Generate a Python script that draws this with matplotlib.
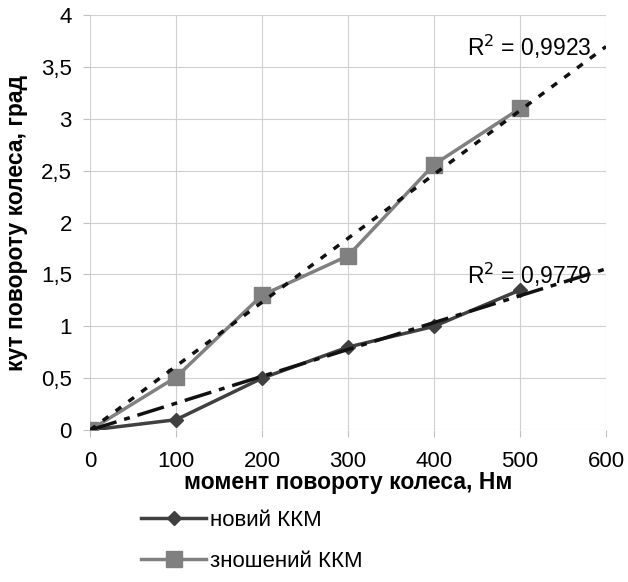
import numpy as np
import matplotlib.pyplot as plt

plt.rcParams['font.family'] = ['Liberation Sans', 'DejaVu Sans']

moment = [0, 100, 200, 300, 400, 500]
kut_novyi = [0, 0.1, 0.5, 0.8, 1.0, 1.35]
kut_znosh = [0, 0.51, 1.3, 1.68, 2.56, 3.1]
r2_novyi = "0,9779"
r2_znosh = "0,9923"

x = np.array(moment, dtype=float)

# лінійний тренд через нуль (як в Excel)
def slope0(y):
    y = np.array(y)
    return (x * y).sum() / (x * x).sum()

fig = plt.figure(figsize=(6.28, 5.82), dpi=100)
ax = fig.add_axes([0.1433, 0.261, 0.8217, 0.713])

ax.plot(moment, kut_novyi, color='#404040', lw=2.5, marker='D', ms=7.5,
        label='новий ККМ', zorder=3)
ax.plot(moment, kut_znosh, color='#808080', lw=2.5, marker='s', ms=11,
        label='зношений ККМ', zorder=3)

xt = np.array([0, 600])
ax.plot(xt, slope0(kut_znosh) * xt, color='#111111', lw=2.5,
        linestyle=(0, (2.0, 2.6)), zorder=4)
ax.plot(xt, slope0(kut_novyi) * xt, color='#111111', lw=2.5,
        linestyle=(0, (8, 2.3, 1.7, 2.3)), zorder=4)

ax.text(583, 3.69, 'R$^2$ = ' + r2_znosh, ha='right', va='center', fontsize=16.5)
ax.text(583, 1.50, 'R$^2$ = ' + r2_novyi, ha='right', va='center', fontsize=16.5)

ax.set_xlim(0, 600)
ax.set_ylim(0, 4)
ax.set_xticks(range(0, 601, 100))
ax.set_yticks(np.arange(0, 4.01, 0.5))
ax.set_yticklabels(['0', '0,5', '1', '1,5', '2', '2,5', '3', '3,5', '4'])
ax.tick_params(labelsize=16, color='#c0c0c0', length=5, width=0.8)
ax.tick_params(axis='x', pad=10)
ax.tick_params(axis='y', pad=8)
ax.grid(True, color='#d0d0d0', lw=0.8)
for s in ax.spines.values():
    s.set_visible(False)

ax.set_xlabel('момент повороту колеса, Нм', fontsize=16.5, fontweight='bold', labelpad=-1)
ax.set_ylabel('кут повороту колеса, град', fontsize=16.5, fontweight='bold', labelpad=9.5)

fig.legend(loc='upper left', bbox_to_anchor=(0.2245, 0.1237), frameon=False,
           fontsize=16, handlelength=2.93, labelspacing=0.9, handletextpad=0.18,
           borderpad=0, borderaxespad=0)

fig.savefig('out.png', dpi=100)
